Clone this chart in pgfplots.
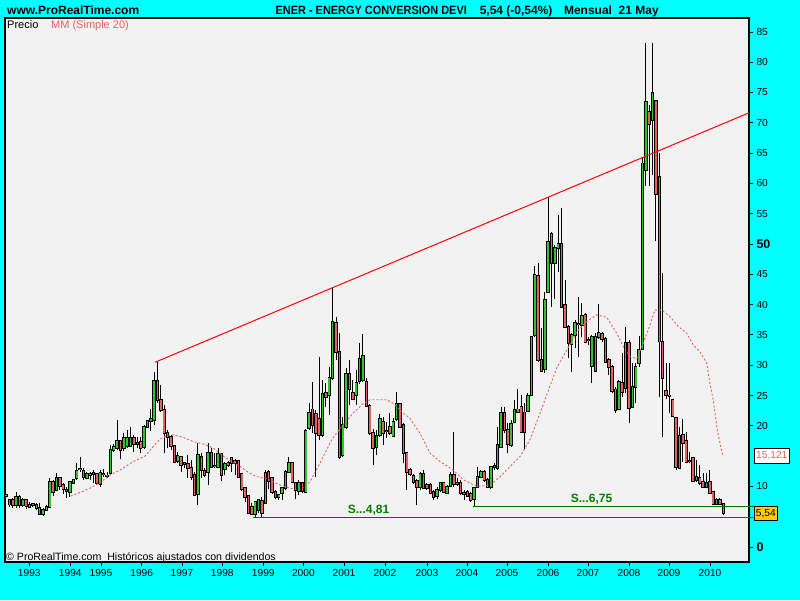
\documentclass[border=0pt]{standalone}
\usepackage{pgfplots}
\pgfplotsset{compat=1.18}
\usepackage{pgfplotstable}
\usepackage{graphicx}
\usepackage{fontspec}
\setmainfont{Liberation Sans}
\definecolor{bgcyan}{RGB}{0,255,255}
\definecolor{plotbg}{RGB}{242,242,242}
\definecolor{upg}{RGB}{48,196,48}
\definecolor{dnr}{RGB}{222,100,100}
\definecolor{maclr}{RGB}{232,96,96}
\definecolor{supg}{RGB}{0,110,0}
\definecolor{stxt}{RGB}{0,128,0}
\definecolor{boxgold}{RGB}{255,204,0}

\pgfplotstableread{
n o h l c
1 8.45 8.75 8.20 8.55
2 7.00 7.92 6.66 7.76
4 6.88 9.13 6.38 8.20
6 6.88 8.03 6.66 7.76
8 6.66 7.48 6.38 6.99
9 6.93 7.10 6.66 7.03
12 5.39 6.38 5.17 6.10
13 6.10 6.93 6.00 6.66
14 6.66 11.33 6.38 10.78
16 9.41 12.16 9.24 11.33
20 9.13 10.95 8.31 10.78
21 10.62 11.17 10.40 11.06
22 11.33 13.80 11.06 12.54
23 12.80 14.80 12.43 12.90
25 11.33 12.43 11.17 12.05
26 11.90 12.43 11.06 12.05
27 12.10 12.70 10.50 12.20
29 10.40 12.70 9.96 12.27
30 12.00 12.80 11.60 12.10
32 12.16 16.83 11.88 16.00
33 16.00 17.00 15.73 16.55
34 16.39 20.96 16.00 17.49
36 16.28 18.76 15.90 18.04
37 16.67 19.30 16.28 17.93
38 16.67 19.86 16.55 18.04
40 17.00 18.20 16.28 17.20
42 16.45 20.13 16.10 19.75
43 19.75 20.96 19.58 20.79
44 20.79 22.70 19.20 21.12
45 20.96 28.93 20.13 27.39
52 14.25 15.73 13.90 15.00
54 13.70 14.08 12.98 13.80
58 8.75 17.20 6.93 15.18
61 12.43 17.10 10.23 15.57
63 13.30 15.46 12.98 13.40
64 13.25 16.28 12.98 15.29
66 12.82 14.08 11.88 13.70
68 13.92 14.90 12.43 14.63
75 5.45 7.65 4.81 7.37
76 6.10 7.87 5.67 7.70
78 7.30 12.70 7.10 12.16
82 8.20 8.75 7.76 8.58
83 8.97 9.96 7.76 9.68
84 9.68 12.70 9.40 12.43
85 12.43 14.80 12.16 13.92
88 9.30 11.06 8.58 10.50
90 9.13 19.40 8.86 19.20
91 19.58 23.70 19.30 22.17
95 18.48 27.56 18.20 25.25
97 25.08 29.76 21.78 27.83
98 27.83 42.68 27.56 37.07
101 15.18 21.50 14.90 20.13
102 19.75 29.48 19.40 28.49
105 25.08 29.20 23.43 27.00
106 27.39 33.60 26.90 30.97
107 27.56 35.15 27.28 31.50
111 16.45 19.30 15.18 18.30
112 18.48 21.95 18.20 21.07
114 19.10 20.68 17.93 19.20
116 18.37 21.23 18.20 20.57
117 21.07 25.63 20.85 23.54
124 9.85 12.43 9.40 12.05
129 8.42 9.96 7.87 9.40
130 9.40 10.78 9.13 10.50
132 8.97 10.23 8.86 9.96
133 10.07 12.43 9.85 11.88
135 10.45 11.33 10.07 10.55
140 7.87 9.96 6.75 9.68
141 9.96 13.26 9.68 11.60
142 11.60 12.70 11.33 12.32
145 9.96 13.37 9.50 13.15
146 13.20 13.80 12.70 13.30
147 12.98 19.86 12.70 16.83
148 16.45 23.15 16.28 22.05
151 16.83 20.96 16.55 20.24
152 20.68 24.26 20.40 22.60
156 22.50 25.36 22.33 24.90
157 25.08 34.70 24.90 34.60
158 34.98 46.37 34.70 44.88
161 29.30 42.13 28.66 40.76
162 42.13 57.80 41.86 50.40
164 46.80 49.83 41.00 49.28
165 49.28 54.78 45.43 50.00
169 33.50 35.26 28.93 34.98
170 34.98 37.46 32.78 36.90
172 36.63 40.20 34.70 38.10
175 29.87 34.98 27.00 34.70
177 34.70 40.10 34.40 35.26
183 22.70 27.56 22.60 27.28
185 26.18 36.36 25.36 33.60
187 23.15 30.30 22.88 26.46
188 26.35 30.30 23.70 29.76
189 30.40 34.80 29.76 32.50
190 32.60 64.40 32.50 63.30
191 62.20 83.20 59.50 73.50
193 70.50 83.10 61.40 75.00
201 13.00 19.86 12.80 18.30
206 11.06 14.36 10.78 11.50
209 9.85 12.16 9.68 10.62
212 7.10 8.03 6.93 7.76
}\upc

\pgfplotstableread{
n o h l c
3 7.76 8.03 6.49 6.88
5 8.20 8.58 6.38 6.88
7 7.76 7.87 6.22 6.77
10 6.93 7.20 6.10 6.38
11 6.38 7.20 5.28 5.45
15 10.67 11.06 8.42 9.13
17 11.33 11.44 9.41 10.12
18 10.23 10.50 8.75 9.52
19 9.41 9.96 8.03 9.19
24 12.54 12.98 11.06 11.50
28 12.05 12.27 10.40 10.62
31 11.80 12.40 11.33 11.70
35 17.49 17.66 14.47 16.00
39 18.04 18.48 15.73 17.00
41 17.38 18.20 15.46 16.28
46 27.39 30.50 23.70 24.26
47 24.26 26.73 22.33 22.60
48 22.60 23.43 15.46 18.76
49 18.87 19.30 16.28 18.20
50 18.20 18.48 16.00 16.67
51 16.67 16.83 13.80 14.08
53 14.90 15.00 12.43 13.53
55 13.64 15.18 11.33 12.98
56 12.98 14.36 11.06 11.60
57 11.88 12.43 8.42 8.58
59 14.90 15.46 11.33 12.70
60 12.54 12.98 11.60 11.88
62 15.57 16.28 12.98 13.15
65 15.29 15.46 10.95 11.88
67 13.80 14.25 13.26 13.48
69 14.25 14.47 11.88 13.92
70 14.25 14.36 11.50 11.60
71 11.99 12.16 9.30 9.52
72 9.68 9.85 7.48 8.30
73 8.42 8.58 5.56 5.67
74 6.55 7.30 5.28 5.45
77 7.65 8.30 4.90 5.67
79 12.32 12.70 9.52 10.95
80 11.33 11.60 8.75 9.13
81 9.13 9.40 7.87 8.30
86 13.80 14.08 10.50 10.73
87 10.50 10.78 7.87 9.40
89 10.50 10.78 8.86 9.30
92 22.70 27.28 18.76 20.13
93 21.95 22.60 11.60 18.87
94 21.07 31.30 17.66 18.48
96 25.36 27.00 23.15 24.80
99 36.90 38.00 30.86 32.23
100 32.23 35.37 14.47 14.80
103 28.49 30.86 23.43 26.00
104 25.36 27.56 24.26 24.37
108 27.28 27.83 23.15 23.27
109 23.27 23.60 18.48 18.76
110 18.76 19.40 13.53 16.28
113 20.68 21.50 16.83 18.76
115 19.86 22.05 18.48 18.76
118 23.54 23.70 19.58 19.75
119 20.13 20.40 13.80 15.57
120 15.57 15.73 9.40 12.43
121 12.70 12.98 11.70 12.05
122 11.70 12.05 10.40 10.78
123 10.95 11.17 6.93 9.85
125 12.05 12.70 9.50 9.68
126 10.23 10.50 9.40 9.68
127 10.23 10.50 8.75 8.97
128 9.13 9.40 7.76 8.30
131 10.50 10.78 8.97 9.13
134 11.88 19.03 9.96 10.40
136 10.50 11.06 8.58 8.86
137 8.97 9.40 7.76 8.75
138 9.13 9.40 8.30 8.42
139 8.75 9.13 7.48 7.76
143 12.32 12.70 10.78 11.06
144 11.06 11.33 9.68 9.96
149 22.05 23.15 18.76 19.30
150 19.30 20.40 15.46 17.00
153 22.70 26.00 22.05 22.33
154 23.05 25.08 18.76 19.03
155 22.20 23.70 16.10 19.03
159 44.70 46.80 30.58 30.86
160 30.86 36.10 28.93 29.10
163 51.65 52.00 39.66 46.80
166 50.00 55.90 39.40 39.55
167 39.93 44.06 36.08 36.36
168 36.36 36.63 31.13 33.60
171 36.80 41.20 31.40 36.70
173 38.28 38.55 33.60 33.88
174 34.20 34.70 33.30 34.10
176 34.70 35.37 28.93 29.10
178 35.15 35.50 33.90 34.27
179 34.27 34.70 30.30 30.58
180 30.86 31.13 28.38 29.65
181 29.65 30.00 25.36 25.80
182 26.00 26.46 22.05 22.60
184 27.00 31.96 24.80 25.63
186 33.60 34.15 20.40 22.88
192 71.80 72.90 59.50 69.80
194 73.60 73.75 50.50 58.20
195 61.10 64.96 24.80 33.90
196 33.90 45.20 18.20 27.83
197 25.80 30.30 24.50 25.08
198 25.00 30.30 22.05 24.90
199 24.26 24.50 21.50 21.60
200 21.23 21.50 12.70 13.15
202 18.48 21.20 14.08 17.10
203 17.49 19.00 13.80 13.97
204 14.20 15.73 13.80 14.10
205 14.63 14.90 10.78 10.95
207 11.33 13.53 10.23 10.62
208 10.73 12.16 9.68 9.85
210 10.73 12.70 8.75 8.97
211 9.13 9.24 6.93 7.10
213 7.76 8.03 6.93 7.10
214 7.10 7.30 5.20 5.54
}\dnc

\pgfplotstableread{
n v
20.2 8.4
23.0 9.0
25.9 9.7
28.9 10.6
31.9 11.9
34.9 12.7
38.8 14.1
42.3 15.0
44.7 16.55
46.7 17.8
48.2 18.2
50.7 18.5
53.6 18.1
56.6 17.4
59.6 17.0
62.6 16.3
65.5 15.0
68.5 13.9
70.5 13.3
73.0 12.3
75.4 11.6
78.4 11.3
82.4 10.2
85.3 9.7
88.3 9.4
91.3 10.8
94.2 13.8
97.7 17.7
100.7 19.9
104.1 22.1
107.1 23.7
109.1 24.3
114.0 24.3
116.0 23.7
119.0 22.1
121.0 21.2
123.9 18.8
126.9 15.5
129.9 14.1
133.8 12.7
136.8 11.1
140.8 10.0
144.7 10.2
147.7 11.6
150.7 13.3
153.6 14.9
156.6 17.7
159.6 22.1
162.5 26.5
164.5 29.5
167.5 32.5
170.5 35.5
173.4 37.2
176.4 38.3
179.4 37.9
182.3 35.3
184.3 33.1
186.3 31.4
188.3 31.1
190.2 33.6
192.2 36.6
193.7 39.1
195.7 39.1
198.2 38.0
200.6 36.4
203.1 35.3
205.1 33.3
207.1 32.2
209.1 30.3
210.0 27.0
211.0 24.3
212.2 19.3
213.8 15.12
}\matab

\begin{document}
\begin{tikzpicture}[x=1pt,y=1pt]
\fill[bgcyan] (0,0) rectangle (800,600);
\useasboundingbox (0,0) rectangle (800,600);
\begin{axis}[
  at={(5pt,38pt)}, anchor=south west,
  scale only axis, width=744pt, height=544pt,
  xmin=0.703, xmax=221.63, ymin=-2.48, ymax=87.3,
  clip=false,
  axis background/.style={fill=plotbg},
  axis line style={black, line width=1.2pt},
  tick align=outside,
  major tick length=4pt,
  every tick/.style={black, line width=0.8pt},
  xtick pos=left, ytick pos=right,
  yticklabel pos=right,
  xtick={7.92,20.09,29.21,41.30,53.26,65.23,77.40,89.30,101.37,113.54,126.01,137.89,149.77,161.95,173.83,186.0,197.88,210.05},
  xticklabels={1993,1994,1995,1996,1997,1998,1999,2000,2001,2002,2003,2004,2005,2006,2007,2008,2009,2010},
  ytick={0,10,20,25,30,35,40,45,50,55,60,65,70,75,80,85},
  yticklabels={{\fontsize{12.5}{13}\selectfont\bfseries 0},10,20,25,30,35,40,45,{\fontsize{12.5}{13}\selectfont\bfseries 50},55,60,65,70,75,80,85},
  xticklabel style={font=\fontsize{10.2}{12}\selectfont},
  yticklabel style={font=\fontsize{10.2}{12}\selectfont},
]
% wicks
\addplot[draw=none, error bars/.cd, y dir=plus, y explicit, error mark=none,
  error bar style={draw=black, line width=1pt}]
  table[x=n, y=l, y error plus expr=\thisrow{h}-\thisrow{l}] {\upc};
\addplot[draw=none, error bars/.cd, y dir=plus, y explicit, error mark=none,
  error bar style={draw=black, line width=1pt}]
  table[x=n, y=l, y error plus expr=\thisrow{h}-\thisrow{l}] {\dnc};
% bodies up
\addplot[draw=none, error bars/.cd, y dir=plus, y explicit, error mark=none,
  error bar style={draw=black, line width=3.4pt, shorten <=-0.9pt, shorten >=-0.9pt}]
  table[x=n, y=o, y error plus expr=\thisrow{c}-\thisrow{o}] {\upc};
\addplot[draw=none, error bars/.cd, y dir=plus, y explicit, error mark=none,
  error bar style={draw=upg, line width=1.6pt}]
  table[x=n, y=o, y error plus expr=\thisrow{c}-\thisrow{o}] {\upc};
% bodies down
\addplot[draw=none, error bars/.cd, y dir=plus, y explicit, error mark=none,
  error bar style={draw=black, line width=3.4pt, shorten <=-0.9pt, shorten >=-0.9pt}]
  table[x=n, y=c, y error plus expr=\thisrow{o}-\thisrow{c}] {\dnc};
\addplot[draw=none, error bars/.cd, y dir=plus, y explicit, error mark=none,
  error bar style={draw=dnr, line width=1.6pt}]
  table[x=n, y=c, y error plus expr=\thisrow{o}-\thisrow{c}] {\dnc};
% moving average
\addplot[maclr, line width=0.9pt, dash pattern=on 2pt off 2pt] table[x=n, y=v] {\matab};
% trend line
\addplot[red, line width=1pt] coordinates {(45.33,30.5) (221.63,71.65)};
% supports
\addplot[supg, line width=1pt] coordinates {(74.3,4.81) (223.1,4.81)};
\addplot[supg, line width=1pt] coordinates {(139.7,6.75) (223.1,6.75)};
\end{axis}
% header
\node[anchor=base west, inner sep=0, font=\fontsize{12}{14}\selectfont\bfseries] at (7,585) {www.ProRealTime.com};
\node[anchor=base west, inner sep=0, font=\fontsize{12}{14}\selectfont\bfseries] at (275.5,585) {\scalebox{0.91}[1]{ENER - ENERGY CONVERSION DEVI}};
\node[anchor=base west, inner sep=0, font=\fontsize{12}{14}\selectfont\bfseries] at (479.6,585) {5,54 (-0,54\%)};
\node[anchor=base west, inner sep=0, font=\fontsize{12}{14}\selectfont\bfseries] at (563.8,585) {Mensual\ \ 21 May};
% legend
\node[anchor=base west, inner sep=0, font=\fontsize{11}{13}\selectfont] at (7,571.5) {Precio};
\node[anchor=base west, inner sep=0, font=\fontsize{11}{13}\selectfont, text=maclr] at (51,571.5) {MM (Simple 20)};
% copyright
\node[anchor=base west, inner sep=0, font=\fontsize{10.6}{12}\selectfont] at (6,40) {© ProRealTime.com\ \ Históricos ajustados con dividendos};
% support labels
\node[anchor=base west, inner sep=0, font=\fontsize{12}{14}\selectfont\bfseries, text=stxt] at (347.7,86.7) {S...4,81};
\node[anchor=base west, inner sep=0, font=\fontsize{12}{14}\selectfont\bfseries, text=stxt] at (570.7,97.3) {S...6,75};
% value boxes
\node[anchor=west, draw=black, line width=0.8pt, fill=white, text=maclr, inner xsep=1.8pt, inner ysep=0pt, minimum height=15pt, font=\fontsize{10.2}{12}\selectfont] at (754,144.5) {15,121};
\node[anchor=west, draw=black, line width=0.8pt, fill=boxgold, text=black, inner xsep=1.5pt, inner ysep=0pt, minimum height=13.5pt, font=\fontsize{10.2}{12}\selectfont] at (754,86.7) {5,54};
\end{tikzpicture}
\end{document}
